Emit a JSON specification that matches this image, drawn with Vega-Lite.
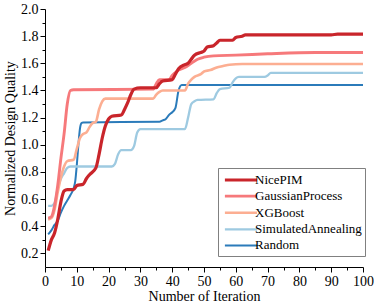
{
  "$schema": "https://vega.github.io/schema/vega-lite/v6.json",
  "autosize": {"type": "none"},
  "width": 318,
  "height": 258,
  "padding": {"left": 45, "top": 9, "right": 11, "bottom": 38},
  "config": {
    "view": {"stroke": null},
    "font": "Liberation Serif",
    "axis": {"grid": false, "domainColor": "black", "tickColor": "black", "labelColor": "black", "titleColor": "black", "labelFont": "Liberation Serif", "titleFont": "Liberation Serif", "labelFontSize": 14, "titleFontSize": 14, "titleFontWeight": "normal", "labelFlush": false, "labelOverlap": false},
    "legend": {"orient": "none", "legendX": 173, "legendY": 159, "strokeColor": "#808080", "fillColor": "white", "padding": 3, "symbolType": "M-2.3,0H2.3", "symbolSize": 196, "symbolOffset": 11, "labelFont": "Liberation Serif", "labelFontSize": 13, "labelColor": "black", "rowPadding": 0.6, "labelOffset": 5}
  },
  "data": {"values": [
    {"method": "Random", "iteration": 1, "quality": 0.34},
    {"method": "Random", "iteration": 2, "quality": 0.37},
    {"method": "Random", "iteration": 3, "quality": 0.41},
    {"method": "Random", "iteration": 4, "quality": 0.44},
    {"method": "Random", "iteration": 5, "quality": 0.5},
    {"method": "Random", "iteration": 6, "quality": 0.55},
    {"method": "Random", "iteration": 7, "quality": 0.59},
    {"method": "Random", "iteration": 8, "quality": 0.63},
    {"method": "Random", "iteration": 9, "quality": 0.68},
    {"method": "Random", "iteration": 9.5, "quality": 0.73},
    {"method": "Random", "iteration": 10, "quality": 0.85},
    {"method": "Random", "iteration": 10.5, "quality": 1.0},
    {"method": "Random", "iteration": 11, "quality": 1.12},
    {"method": "Random", "iteration": 11.5, "quality": 1.16},
    {"method": "Random", "iteration": 12, "quality": 1.165},
    {"method": "Random", "iteration": 36, "quality": 1.17},
    {"method": "Random", "iteration": 37, "quality": 1.18},
    {"method": "Random", "iteration": 38, "quality": 1.19},
    {"method": "Random", "iteration": 39, "quality": 1.22},
    {"method": "Random", "iteration": 40, "quality": 1.24},
    {"method": "Random", "iteration": 41, "quality": 1.27},
    {"method": "Random", "iteration": 42, "quality": 1.4},
    {"method": "Random", "iteration": 43, "quality": 1.44},
    {"method": "Random", "iteration": 100, "quality": 1.44},
    {"method": "SimulatedAnnealing", "iteration": 1, "quality": 0.55},
    {"method": "SimulatedAnnealing", "iteration": 2, "quality": 0.55},
    {"method": "SimulatedAnnealing", "iteration": 3, "quality": 0.57},
    {"method": "SimulatedAnnealing", "iteration": 4, "quality": 0.68},
    {"method": "SimulatedAnnealing", "iteration": 5, "quality": 0.75},
    {"method": "SimulatedAnnealing", "iteration": 6, "quality": 0.79},
    {"method": "SimulatedAnnealing", "iteration": 7, "quality": 0.83},
    {"method": "SimulatedAnnealing", "iteration": 8, "quality": 0.84},
    {"method": "SimulatedAnnealing", "iteration": 21, "quality": 0.84},
    {"method": "SimulatedAnnealing", "iteration": 22, "quality": 0.86},
    {"method": "SimulatedAnnealing", "iteration": 23, "quality": 0.93},
    {"method": "SimulatedAnnealing", "iteration": 24, "quality": 0.96},
    {"method": "SimulatedAnnealing", "iteration": 27, "quality": 0.96},
    {"method": "SimulatedAnnealing", "iteration": 28, "quality": 0.99},
    {"method": "SimulatedAnnealing", "iteration": 29, "quality": 1.09},
    {"method": "SimulatedAnnealing", "iteration": 30, "quality": 1.115},
    {"method": "SimulatedAnnealing", "iteration": 44, "quality": 1.115},
    {"method": "SimulatedAnnealing", "iteration": 45, "quality": 1.2},
    {"method": "SimulatedAnnealing", "iteration": 46, "quality": 1.3},
    {"method": "SimulatedAnnealing", "iteration": 47, "quality": 1.32},
    {"method": "SimulatedAnnealing", "iteration": 48, "quality": 1.33},
    {"method": "SimulatedAnnealing", "iteration": 53, "quality": 1.335},
    {"method": "SimulatedAnnealing", "iteration": 54, "quality": 1.38},
    {"method": "SimulatedAnnealing", "iteration": 55, "quality": 1.41},
    {"method": "SimulatedAnnealing", "iteration": 58, "quality": 1.42},
    {"method": "SimulatedAnnealing", "iteration": 59, "quality": 1.46},
    {"method": "SimulatedAnnealing", "iteration": 60, "quality": 1.49},
    {"method": "SimulatedAnnealing", "iteration": 61, "quality": 1.5},
    {"method": "SimulatedAnnealing", "iteration": 69, "quality": 1.5},
    {"method": "SimulatedAnnealing", "iteration": 70, "quality": 1.51},
    {"method": "SimulatedAnnealing", "iteration": 71, "quality": 1.53},
    {"method": "SimulatedAnnealing", "iteration": 100, "quality": 1.53},
    {"method": "XGBoost", "iteration": 1, "quality": 0.45},
    {"method": "XGBoost", "iteration": 2, "quality": 0.46},
    {"method": "XGBoost", "iteration": 3, "quality": 0.52},
    {"method": "XGBoost", "iteration": 4, "quality": 0.65},
    {"method": "XGBoost", "iteration": 5, "quality": 0.76},
    {"method": "XGBoost", "iteration": 6, "quality": 0.84},
    {"method": "XGBoost", "iteration": 7, "quality": 0.88},
    {"method": "XGBoost", "iteration": 9, "quality": 0.89},
    {"method": "XGBoost", "iteration": 10, "quality": 0.97},
    {"method": "XGBoost", "iteration": 11, "quality": 1.05},
    {"method": "XGBoost", "iteration": 12, "quality": 1.08},
    {"method": "XGBoost", "iteration": 13, "quality": 1.09},
    {"method": "XGBoost", "iteration": 14, "quality": 1.13},
    {"method": "XGBoost", "iteration": 15, "quality": 1.16},
    {"method": "XGBoost", "iteration": 16, "quality": 1.17},
    {"method": "XGBoost", "iteration": 17, "quality": 1.26},
    {"method": "XGBoost", "iteration": 18, "quality": 1.32},
    {"method": "XGBoost", "iteration": 19, "quality": 1.34},
    {"method": "XGBoost", "iteration": 34, "quality": 1.34},
    {"method": "XGBoost", "iteration": 35, "quality": 1.37},
    {"method": "XGBoost", "iteration": 36, "quality": 1.39},
    {"method": "XGBoost", "iteration": 37, "quality": 1.4},
    {"method": "XGBoost", "iteration": 44, "quality": 1.4},
    {"method": "XGBoost", "iteration": 45, "quality": 1.45},
    {"method": "XGBoost", "iteration": 46, "quality": 1.48},
    {"method": "XGBoost", "iteration": 47, "quality": 1.5},
    {"method": "XGBoost", "iteration": 49, "quality": 1.52},
    {"method": "XGBoost", "iteration": 50, "quality": 1.54},
    {"method": "XGBoost", "iteration": 52, "quality": 1.55},
    {"method": "XGBoost", "iteration": 54, "quality": 1.57},
    {"method": "XGBoost", "iteration": 56, "quality": 1.58},
    {"method": "XGBoost", "iteration": 58, "quality": 1.59},
    {"method": "XGBoost", "iteration": 62, "quality": 1.595},
    {"method": "XGBoost", "iteration": 100, "quality": 1.595},
    {"method": "GaussianProcess", "iteration": 1, "quality": 0.46},
    {"method": "GaussianProcess", "iteration": 2, "quality": 0.47},
    {"method": "GaussianProcess", "iteration": 3, "quality": 0.55},
    {"method": "GaussianProcess", "iteration": 4, "quality": 0.7},
    {"method": "GaussianProcess", "iteration": 5, "quality": 0.9},
    {"method": "GaussianProcess", "iteration": 6, "quality": 1.08},
    {"method": "GaussianProcess", "iteration": 7, "quality": 1.3},
    {"method": "GaussianProcess", "iteration": 8, "quality": 1.4},
    {"method": "GaussianProcess", "iteration": 9, "quality": 1.405},
    {"method": "GaussianProcess", "iteration": 34, "quality": 1.41},
    {"method": "GaussianProcess", "iteration": 35, "quality": 1.45},
    {"method": "GaussianProcess", "iteration": 36, "quality": 1.48},
    {"method": "GaussianProcess", "iteration": 39, "quality": 1.48},
    {"method": "GaussianProcess", "iteration": 40, "quality": 1.51},
    {"method": "GaussianProcess", "iteration": 42, "quality": 1.55},
    {"method": "GaussianProcess", "iteration": 44, "quality": 1.57},
    {"method": "GaussianProcess", "iteration": 46, "quality": 1.6},
    {"method": "GaussianProcess", "iteration": 48, "quality": 1.63},
    {"method": "GaussianProcess", "iteration": 50, "quality": 1.645},
    {"method": "GaussianProcess", "iteration": 53, "quality": 1.655},
    {"method": "GaussianProcess", "iteration": 60, "quality": 1.66},
    {"method": "GaussianProcess", "iteration": 70, "quality": 1.67},
    {"method": "GaussianProcess", "iteration": 85, "quality": 1.68},
    {"method": "GaussianProcess", "iteration": 100, "quality": 1.68},
    {"method": "NicePIM", "iteration": 1, "quality": 0.22},
    {"method": "NicePIM", "iteration": 2, "quality": 0.3},
    {"method": "NicePIM", "iteration": 3, "quality": 0.35},
    {"method": "NicePIM", "iteration": 4, "quality": 0.45},
    {"method": "NicePIM", "iteration": 5, "quality": 0.58},
    {"method": "NicePIM", "iteration": 6, "quality": 0.66},
    {"method": "NicePIM", "iteration": 7, "quality": 0.67},
    {"method": "NicePIM", "iteration": 9, "quality": 0.67},
    {"method": "NicePIM", "iteration": 10, "quality": 0.7},
    {"method": "NicePIM", "iteration": 12, "quality": 0.71},
    {"method": "NicePIM", "iteration": 13, "quality": 0.75},
    {"method": "NicePIM", "iteration": 14, "quality": 0.78},
    {"method": "NicePIM", "iteration": 16, "quality": 0.83},
    {"method": "NicePIM", "iteration": 17, "quality": 0.93},
    {"method": "NicePIM", "iteration": 18, "quality": 1.05},
    {"method": "NicePIM", "iteration": 19, "quality": 1.14},
    {"method": "NicePIM", "iteration": 20, "quality": 1.19},
    {"method": "NicePIM", "iteration": 21, "quality": 1.21},
    {"method": "NicePIM", "iteration": 24, "quality": 1.22},
    {"method": "NicePIM", "iteration": 25, "quality": 1.26},
    {"method": "NicePIM", "iteration": 26, "quality": 1.31},
    {"method": "NicePIM", "iteration": 27, "quality": 1.37},
    {"method": "NicePIM", "iteration": 28, "quality": 1.41},
    {"method": "NicePIM", "iteration": 30, "quality": 1.42},
    {"method": "NicePIM", "iteration": 35, "quality": 1.42},
    {"method": "NicePIM", "iteration": 36, "quality": 1.45},
    {"method": "NicePIM", "iteration": 37, "quality": 1.47},
    {"method": "NicePIM", "iteration": 40, "quality": 1.48},
    {"method": "NicePIM", "iteration": 41, "quality": 1.52},
    {"method": "NicePIM", "iteration": 42, "quality": 1.56},
    {"method": "NicePIM", "iteration": 44, "quality": 1.59},
    {"method": "NicePIM", "iteration": 45, "quality": 1.6},
    {"method": "NicePIM", "iteration": 46, "quality": 1.63},
    {"method": "NicePIM", "iteration": 47, "quality": 1.66},
    {"method": "NicePIM", "iteration": 49, "quality": 1.68},
    {"method": "NicePIM", "iteration": 50, "quality": 1.69},
    {"method": "NicePIM", "iteration": 51, "quality": 1.72},
    {"method": "NicePIM", "iteration": 53, "quality": 1.73},
    {"method": "NicePIM", "iteration": 54, "quality": 1.75},
    {"method": "NicePIM", "iteration": 55, "quality": 1.77},
    {"method": "NicePIM", "iteration": 59, "quality": 1.77},
    {"method": "NicePIM", "iteration": 60, "quality": 1.79},
    {"method": "NicePIM", "iteration": 62, "quality": 1.8},
    {"method": "NicePIM", "iteration": 63, "quality": 1.81},
    {"method": "NicePIM", "iteration": 90, "quality": 1.81},
    {"method": "NicePIM", "iteration": 92, "quality": 1.815},
    {"method": "NicePIM", "iteration": 100, "quality": 1.815}
  ]},
  "mark": {"type": "line", "interpolate": "monotone"},
  "encoding": {
    "x": {
      "field": "iteration", "type": "quantitative",
      "scale": {"domain": [0, 100], "nice": false, "zero": false},
      "axis": {
        "title": "Number of Iteration",
        "values": [0, 5, 10, 15, 20, 25, 30, 35, 40, 45, 50, 55, 60, 65, 70, 75, 80, 85, 90, 95, 100],
        "labelExpr": "datum.value % 10 == 0 ? datum.label : ''",
        "tickSize": {"condition": {"test": "datum.value % 10 == 0", "value": 5}, "value": 3},
        "labelPadding": 2,
        "titlePadding": 1
      }
    },
    "y": {
      "field": "quality", "type": "quantitative",
      "scale": {"domain": [0.1, 2.0], "nice": false, "zero": false},
      "axis": {
        "title": "Normalized Design Quality",
        "values": [0.2, 0.3, 0.4, 0.5, 0.6, 0.7, 0.8, 0.9, 1.0, 1.1, 1.2, 1.3, 1.4, 1.5, 1.6, 1.7, 1.8, 1.9, 2.0],
        "labelExpr": "round(datum.value * 10) % 2 == 0 ? format(datum.value, '.1f') : ''",
        "tickSize": {"condition": {"test": "round(datum.value * 10) % 2 == 0", "value": 5}, "value": 3},
        "labelPadding": 2,
        "titlePadding": 3
      }
    },
    "color": {
      "field": "method", "type": "nominal",
      "scale": {"domain": ["NicePIM", "GaussianProcess", "XGBoost", "SimulatedAnnealing", "Random"], "range": ["#c9252b", "#f6797b", "#fcae92", "#9ecae1", "#2b7bba"]},
      "legend": {"title": null}
    },
    "strokeWidth": {
      "field": "method", "type": "nominal",
      "scale": {"domain": ["NicePIM", "GaussianProcess", "XGBoost", "SimulatedAnnealing", "Random"], "range": [3.2, 2, 2, 2, 2]},
      "legend": {"title": null}
    }
  }
}
